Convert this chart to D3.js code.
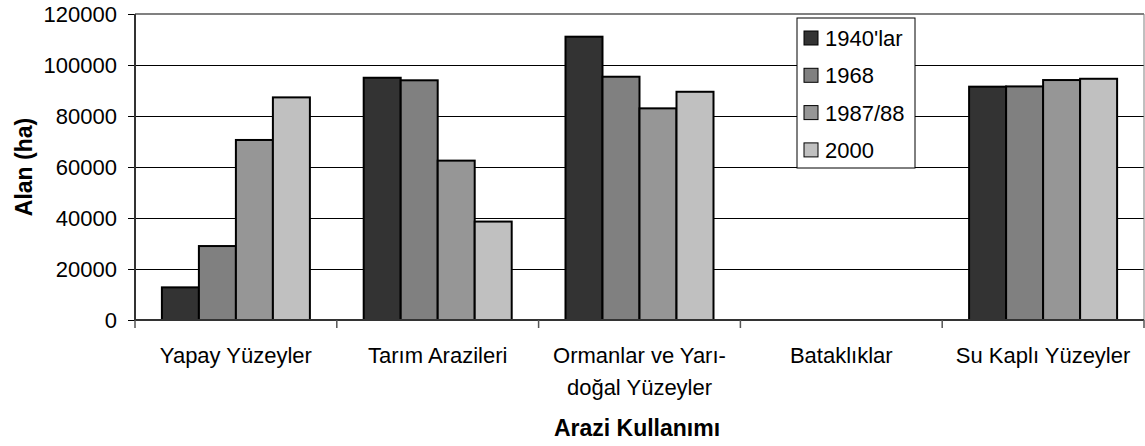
<!DOCTYPE html>
<html>
<head>
<meta charset="utf-8">
<script src="https://cdn.jsdelivr.net/npm/d3@7"></script>
<style>
  body { margin: 0; background: #fff; }
  text { font-family: "Liberation Sans", Arial, sans-serif; fill: #000; }
</style>
</head>
<body>
<script>
// Data
const categories = ["Yapay Yüzeyler", "Tarım Arazileri", "Ormanlar ve Yarı-doğal Yüzeyler", "Bataklıklar", "Su Kaplı Yüzeyler"];
const categoryLines = [["Yapay Yüzeyler"], ["Tarım Arazileri"], ["Ormanlar ve Yarı-", "doğal Yüzeyler"], ["Bataklıklar"], ["Su Kaplı Yüzeyler"]];
const seriesNames = ["1940'lar", "1968", "1987/88", "2000"];
const s1940 = [12800, 95000, 111100, 0, 91500];
const s1968 = [29000, 94000, 95400, 0, 91600];
const s1987 = [70600, 62500, 83000, 0, 94100];
const s2000 = [87300, 38600, 89500, 0, 94600];
const yTicks = [0, 20000, 40000, 60000, 80000, 100000, 120000];
const colors = ["#333333", "#808080", "#969696", "#c0c0c0"];

const allSeries = [s1940, s1968, s1987, s2000];

const margin = { top: 14, bottom: 126, left: 135, right: 1 };
const width = 1145 - margin.left - margin.right;
const height = 446 - margin.top - margin.bottom;

const svg = d3.select("body")
  .append("svg")
  .attr("width", 1145)
  .attr("height", 446);

const g = svg.append("g").attr("transform", `translate(${margin.left},${margin.top})`);

// Scales
const x0 = d3.scaleBand().domain(categories).range([0, width]).padding(0);
const x1 = d3.scaleBand().domain(seriesNames).range([0, x0.bandwidth()]).paddingInner(0).paddingOuter(0.727);
const y = d3.scaleLinear().domain([0, 120000]).range([height, 0]);

// Gridlines
g.append("g")
  .selectAll("line")
  .data(yTicks.filter(t => t > 0 && t < 120000))
  .join("line")
  .attr("x1", 0).attr("x2", width)
  .attr("y1", d => y(d)).attr("y2", d => y(d))
  .attr("stroke", "#000").attr("stroke-width", 1)
  .attr("shape-rendering", "crispEdges");

// plot border top / right (gray)
g.append("line").attr("x1", 0).attr("x2", width).attr("y1", 0).attr("y2", 0)
  .attr("stroke", "#808080").attr("stroke-width", 2);
g.append("line").attr("x1", width).attr("x2", width).attr("y1", 0).attr("y2", height)
  .attr("stroke", "#808080").attr("stroke-width", 1);

// Y axis
const yaxis = d3.axisLeft(y).tickValues(yTicks).tickSize(7).tickPadding(11).tickFormat(d3.format("d"));
const g_yaxis = g.append("g").call(yaxis);
g_yaxis.select(".domain").remove();
g_yaxis.selectAll("line").attr("stroke", "#000");
g_yaxis.selectAll("text").attr("font-size", 22).attr("font-family", "Liberation Sans, Arial, sans-serif");

// Bars
const rows = categories.map((c, i) => ({
  cat: c,
  vals: seriesNames.map((s, j) => ({ s: s, j: j, v: allSeries[j][i] }))
}));

const groups = g.append("g")
  .selectAll("g")
  .data(rows)
  .join("g")
  .attr("transform", d => `translate(${x0(d.cat)},0)`);

groups.selectAll("rect")
  .data(d => d.vals.filter(v => v.v > 0))
  .join("rect")
  .attr("x", d => x1(d.s))
  .attr("width", x1.bandwidth())
  .attr("y", d => y(d.v))
  .attr("height", d => y(0) - y(d.v))
  .attr("fill", d => colors[d.j])
  .attr("stroke", "#000")
  .attr("stroke-width", 2);

// Axis lines
g.append("line").attr("x1", 0).attr("x2", 0).attr("y1", 0).attr("y2", height)
  .attr("stroke", "#333").attr("stroke-width", 2);
g.append("line").attr("x1", 0).attr("x2", width).attr("y1", height).attr("y2", height)
  .attr("stroke", "#333").attr("stroke-width", 2);

// X ticks at category boundaries
const bounds = categories.map(c => x0(c)).concat([width]);
g.append("g")
  .selectAll("line")
  .data(bounds)
  .join("line")
  .attr("x1", d => d).attr("x2", d => d)
  .attr("y1", height).attr("y2", height + 8)
  .attr("stroke", "#555").attr("stroke-width", 1.5);

// X labels
const xl = g.append("g")
  .selectAll("text")
  .data(categories)
  .join("text")
  .attr("x", d => x0(d) + x0.bandwidth() / 2)
  .attr("y", height + 43)
  .attr("text-anchor", "middle")
  .attr("font-size", 22);
xl.selectAll("tspan")
  .data((d, i) => categoryLines[i])
  .join("tspan")
  .attr("x", function() { return this.parentNode.getAttribute("x"); })
  .attr("dy", (d, i) => i === 0 ? 0 : 32)
  .text(d => d);

// Axis titles
svg.append("text")
  .attr("x", 637).attr("y", 436)
  .attr("text-anchor", "middle")
  .attr("font-size", 23).attr("font-weight", "bold")
  .text("Arazi Kullanımı");

svg.append("text")
  .attr("transform", `translate(32,${margin.top + height / 2}) rotate(-90)`)
  .attr("text-anchor", "middle")
  .attr("font-size", 23).attr("font-weight", "bold")
  .text("Alan (ha)");

// Legend
const legend = svg.append("g").attr("transform", "translate(797,18)");
legend.append("rect")
  .attr("width", 118).attr("height", 150)
  .attr("fill", "#fff").attr("stroke", "#000").attr("stroke-width", 1);
const items = legend.selectAll("g.item")
  .data(seriesNames)
  .join("g")
  .attr("class", "item")
  .attr("transform", (d, i) => `translate(0,${20 + i * 37.3})`);
items.append("rect")
  .attr("x", 7).attr("y", -7).attr("width", 14).attr("height", 14)
  .attr("fill", (d, i) => colors[i]).attr("stroke", "#000").attr("stroke-width", 1);
items.append("text")
  .attr("x", 28).attr("y", 8)
  .attr("font-size", 22)
  .text(d => d);
</script>
</body>
</html>
